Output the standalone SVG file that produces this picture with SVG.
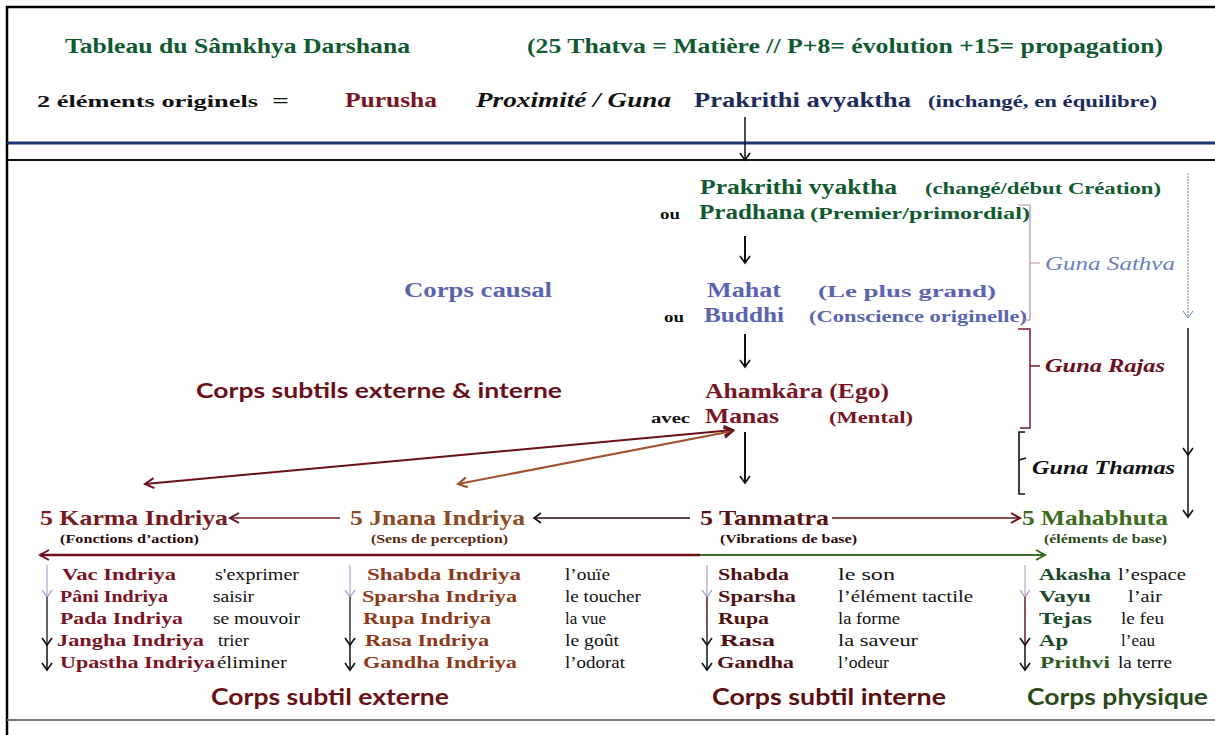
<svg xmlns="http://www.w3.org/2000/svg" width="1215" height="735" viewBox="0 0 1215 735" font-family="'Liberation Serif','Times New Roman',serif">
<style>
text{font-family:"Liberation Serif","Times New Roman",serif;font-weight:bold}
.g{fill:#0f5a30}.r{fill:#7a1424}.n{fill:#1c2b5c}.b{fill:#5a64b0}.k{fill:#111}
.sans{font-family:Lato,"Noto Sans",sans-serif}
.it{font-style:italic}
.reg{font-weight:normal;fill:#111;font-size:17px}
.ln{fill:none}
</style>
<defs>
<marker id="ahk" markerWidth="12" markerHeight="12" refX="9" refY="6" orient="auto" markerUnits="userSpaceOnUse"><path d="M2,1 L9,6 L2,11" fill="none" stroke="#111" stroke-width="1.6"/></marker>
<marker id="ahr" markerWidth="14" markerHeight="12" refX="11" refY="6" orient="auto" markerUnits="userSpaceOnUse"><path d="M2,1 L11,6 L2,11" fill="none" stroke="#6a1018" stroke-width="2"/></marker>
<marker id="ahrs" markerWidth="14" markerHeight="12" refX="11" refY="6" orient="auto-start-reverse" markerUnits="userSpaceOnUse"><path d="M2,1 L11,6 L2,11" fill="none" stroke="#6a1018" stroke-width="2"/></marker>
<marker id="ahbr" markerWidth="14" markerHeight="12" refX="11" refY="6" orient="auto-start-reverse" markerUnits="userSpaceOnUse"><path d="M2,1 L11,6 L2,11" fill="none" stroke="#a0522d" stroke-width="2"/></marker>
<marker id="ahg" markerWidth="14" markerHeight="12" refX="11" refY="6" orient="auto" markerUnits="userSpaceOnUse"><path d="M2,1 L11,6 L2,11" fill="none" stroke="#3d6b22" stroke-width="2"/></marker>
<marker id="ahb" markerWidth="12" markerHeight="12" refX="9" refY="6" orient="auto" markerUnits="userSpaceOnUse"><path d="M2,1 L9,6 L2,11" fill="none" stroke="#7080b0" stroke-width="1"/></marker>
<marker id="ahl" markerWidth="12" markerHeight="12" refX="9" refY="6" orient="auto" markerUnits="userSpaceOnUse"><path d="M2,1 L9,6 L2,11" fill="none" stroke="#9a90c8" stroke-width="1.2"/></marker>
</defs>
<rect width="1215" height="735" fill="#fff"/>
<g id="frame" fill="none">
<path d="M7,735 L7,7 L1215,7" stroke="#000" stroke-width="2.5"/>
<line x1="7" y1="143" x2="1215" y2="143" stroke="#1a3572" stroke-width="3"/>
<line x1="7" y1="160" x2="1215" y2="160" stroke="#111" stroke-width="2"/>
<line x1="7" y1="720" x2="1215" y2="720" stroke="#777" stroke-width="2"/>
</g>
<g id="header">
<text class="g" x="65" y="53" font-size="21" textLength="345" lengthAdjust="spacingAndGlyphs">Tableau du Sâmkhya Darshana</text>
<text class="g" x="527" y="53" font-size="21" textLength="636" lengthAdjust="spacingAndGlyphs">(25 Thatva = Matière // P+8= évolution +15= propagation)</text>
<text class="k" x="37" y="107" font-size="17" textLength="221" lengthAdjust="spacingAndGlyphs">2 éléments originels</text>
<text class="k" x="272" y="107" font-size="19" textLength="17" lengthAdjust="spacingAndGlyphs">=</text>
</g>
<g id="purusha"><text class="r" x="345" y="107" font-size="21" textLength="92" lengthAdjust="spacingAndGlyphs">Purusha</text></g>
<g id="proximite"><text class="k it" x="476" y="107" font-size="20" textLength="195" lengthAdjust="spacingAndGlyphs">Proximité / Guna</text></g>
<g id="avyaktha">
<text class="n" x="694" y="107" font-size="21" textLength="217" lengthAdjust="spacingAndGlyphs">Prakrithi  avyaktha</text>
<text class="n" x="928" y="107" font-size="17" textLength="229" lengthAdjust="spacingAndGlyphs">(inchangé, en équilibre)</text>
</g>
<g id="vyaktha">
<text class="g" x="700" y="194" font-size="20" textLength="197" lengthAdjust="spacingAndGlyphs">Prakrithi vyaktha</text>
<text class="g" x="925" y="194" font-size="17" textLength="236" lengthAdjust="spacingAndGlyphs">(changé/début Création)</text>
<text class="k" x="660" y="219" font-size="15" textLength="20" lengthAdjust="spacingAndGlyphs">ou</text>
<text class="g" x="699" y="219" font-size="20" textLength="106" lengthAdjust="spacingAndGlyphs">Pradhana</text>
<text class="g" x="810" y="219" font-size="17" textLength="220" lengthAdjust="spacingAndGlyphs">(Premier/primordial)</text>
</g>
<g id="causal"><text class="b" x="404" y="297" font-size="20" textLength="148" lengthAdjust="spacingAndGlyphs">Corps causal</text></g>
<g id="mahat">
<text class="b" x="707" y="297" font-size="20" textLength="74" lengthAdjust="spacingAndGlyphs">Mahat</text>
<text class="b" x="818" y="297" font-size="17" textLength="178" lengthAdjust="spacingAndGlyphs">(Le plus grand)</text>
<text class="k" x="664" y="322" font-size="15" textLength="20" lengthAdjust="spacingAndGlyphs">ou</text>
<text class="b" x="704" y="322" font-size="20" textLength="80" lengthAdjust="spacingAndGlyphs">Buddhi</text>
<text class="b" x="809" y="322" font-size="17" textLength="218" lengthAdjust="spacingAndGlyphs">(Conscience originelle)</text>
</g>
<g id="subtils"><text class="sans" x="196" y="398" font-size="21" fill="#6a1018" textLength="366" lengthAdjust="spacingAndGlyphs">Corps subtils externe &amp; interne</text></g>
<g id="ahamkara">
<text class="r" x="705" y="398" font-size="20" textLength="184" lengthAdjust="spacingAndGlyphs">Ahamkâra (Ego)</text>
<text class="k" x="651" y="423" font-size="14" textLength="39" lengthAdjust="spacingAndGlyphs">avec</text>
<text class="r" x="705" y="423" font-size="21" textLength="74" lengthAdjust="spacingAndGlyphs">Manas</text>
<text class="r" x="829" y="423" font-size="17" textLength="84" lengthAdjust="spacingAndGlyphs">(Mental)</text>
</g>
<g id="guna-sathva">
<path class="ln" d="M1018,205 L1030,205 L1030,320 L1022,320 M1030,263 L1040,263" stroke="#b090a8" stroke-width="1.2"/>
<text class="it" x="1045" y="270" font-size="18" fill="#6a80c0" textLength="130" lengthAdjust="spacingAndGlyphs" style="font-weight:normal">Guna Sathva</text>
</g>
<g id="guna-rajas">
<path class="ln" d="M1018,329 L1030,329 L1030,428 L1020,428 M1030,366 L1040,366" stroke="#7a1a2a" stroke-width="1.5"/>
<text class="it" x="1045" y="372" font-size="18" fill="#6a1020" textLength="120" lengthAdjust="spacingAndGlyphs">Guna Rajas</text>
</g>
<g id="guna-thamas">
<path class="ln" d="M1025,432 L1019,432 L1019,494 L1025,494 M1019,460 L1026,458" stroke="#111" stroke-width="1.6"/>
<text class="it k" x="1032" y="474" font-size="18" textLength="143" lengthAdjust="spacingAndGlyphs">Guna Thamas</text>
</g>
<g id="karma">
<text x="40" y="525" font-size="21" fill="#7a1a22" textLength="188" lengthAdjust="spacingAndGlyphs">5 Karma Indriya</text>
<text x="60" y="543" font-size="12" fill="#2a0a0a" textLength="139" lengthAdjust="spacingAndGlyphs">(Fonctions d’action)</text>
</g>
<g id="jnana">
<text x="350" y="525" font-size="21" fill="#8b4a22" textLength="175" lengthAdjust="spacingAndGlyphs">5 Jnana Indriya</text>
<text x="371" y="543" font-size="12" fill="#5a2a10" textLength="137" lengthAdjust="spacingAndGlyphs">(Sens de perception)</text>
</g>
<g id="tanmatra">
<text x="700" y="525" font-size="21" fill="#5a1212" textLength="129" lengthAdjust="spacingAndGlyphs">5 Tanmatra</text>
<text x="720" y="543" font-size="12" fill="#2a0a0a" textLength="137" lengthAdjust="spacingAndGlyphs">(Vibrations de base)</text>
</g>
<g id="mahabhuta">
<text x="1022" y="525" font-size="21" fill="#3d6b22" textLength="146" lengthAdjust="spacingAndGlyphs">5 Mahabhuta</text>
<text x="1044" y="543" font-size="12" fill="#2a4a1a" textLength="123" lengthAdjust="spacingAndGlyphs">(éléments de base)</text>
</g>
<g id="list-karma" font-size="17">
<text x="62" y="580" fill="#7a1424" textLength="114" lengthAdjust="spacingAndGlyphs">Vac Indriya</text>
<text x="60" y="602" fill="#7a1424" textLength="108" lengthAdjust="spacingAndGlyphs">Pâni Indriya</text>
<text x="60" y="624" fill="#7a1424" textLength="123" lengthAdjust="spacingAndGlyphs">Pada Indriya</text>
<text x="57" y="646" fill="#7a1424" textLength="147" lengthAdjust="spacingAndGlyphs">Jangha Indriya</text>
<text x="60" y="668" fill="#7a1424" textLength="155" lengthAdjust="spacingAndGlyphs">Upastha Indriya</text>
<text class="reg" x="215" y="580" textLength="84" lengthAdjust="spacingAndGlyphs">s'exprimer</text>
<text class="reg" x="213" y="602" textLength="41" lengthAdjust="spacingAndGlyphs">saisir</text>
<text class="reg" x="213" y="624" textLength="87" lengthAdjust="spacingAndGlyphs">se mouvoir</text>
<text class="reg" x="218" y="646" textLength="31" lengthAdjust="spacingAndGlyphs">trier</text>
<text class="reg" x="217" y="668" textLength="70" lengthAdjust="spacingAndGlyphs">éliminer</text>
</g>
<g id="list-jnana" font-size="17">
<text x="367" y="580" fill="#8b3a1a" textLength="154" lengthAdjust="spacingAndGlyphs">Shabda  Indriya</text>
<text x="362" y="602" fill="#8b3a1a" textLength="155" lengthAdjust="spacingAndGlyphs">Sparsha Indriya</text>
<text x="363" y="624" fill="#8b3a1a" textLength="128" lengthAdjust="spacingAndGlyphs">Rupa Indriya</text>
<text x="365" y="646" fill="#8b3a1a" textLength="124" lengthAdjust="spacingAndGlyphs">Rasa Indriya</text>
<text x="363" y="668" fill="#8b3a1a" textLength="154" lengthAdjust="spacingAndGlyphs">Gandha Indriya</text>
<text class="reg" x="565" y="580" textLength="45" lengthAdjust="spacingAndGlyphs">l’ouïe</text>
<text class="reg" x="565" y="602" textLength="76" lengthAdjust="spacingAndGlyphs">le toucher</text>
<text class="reg" x="565" y="624" textLength="41" lengthAdjust="spacingAndGlyphs">la vue</text>
<text class="reg" x="565" y="646" textLength="54" lengthAdjust="spacingAndGlyphs">le goût</text>
<text class="reg" x="565" y="668" textLength="60" lengthAdjust="spacingAndGlyphs">l’odorat</text>
</g>
<g id="list-tanmatra" font-size="17">
<text x="718" y="580" fill="#4e1010" textLength="71" lengthAdjust="spacingAndGlyphs">Shabda</text>
<text x="718" y="602" fill="#4e1010" textLength="78" lengthAdjust="spacingAndGlyphs">Sparsha</text>
<text x="718" y="624" fill="#4e1010" textLength="51" lengthAdjust="spacingAndGlyphs">Rupa</text>
<text x="720" y="646" fill="#4e1010" textLength="55" lengthAdjust="spacingAndGlyphs">Rasa</text>
<text x="717" y="668" fill="#4e1010" textLength="77" lengthAdjust="spacingAndGlyphs">Gandha</text>
<text class="reg" x="838" y="580" textLength="57" lengthAdjust="spacingAndGlyphs">le son</text>
<text class="reg" x="838" y="602" textLength="135" lengthAdjust="spacingAndGlyphs">l’élément tactile</text>
<text class="reg" x="838" y="624" textLength="62" lengthAdjust="spacingAndGlyphs">la forme</text>
<text class="reg" x="838" y="646" textLength="80" lengthAdjust="spacingAndGlyphs">la saveur</text>
<text class="reg" x="838" y="668" textLength="51" lengthAdjust="spacingAndGlyphs">l’odeur</text>
</g>
<g id="list-mahabhuta" font-size="17">
<text x="1039" y="580" fill="#1a4a2a" textLength="72" lengthAdjust="spacingAndGlyphs">Akasha</text>
<text x="1039" y="602" fill="#1a4a2a" textLength="52" lengthAdjust="spacingAndGlyphs">Vayu</text>
<text x="1039" y="624" fill="#1a4a2a" textLength="53" lengthAdjust="spacingAndGlyphs">Tejas</text>
<text x="1039" y="646" fill="#1a4a2a" textLength="29" lengthAdjust="spacingAndGlyphs">Ap</text>
<text x="1040" y="668" fill="#2c5a22" textLength="70" lengthAdjust="spacingAndGlyphs">Prithvi</text>
<text class="reg" x="1118" y="580" textLength="68" lengthAdjust="spacingAndGlyphs">l’espace</text>
<text class="reg" x="1128" y="602" textLength="34" lengthAdjust="spacingAndGlyphs">l’air</text>
<text class="reg" x="1121" y="624" textLength="43" lengthAdjust="spacingAndGlyphs">le feu</text>
<text class="reg" x="1121" y="646" textLength="34" lengthAdjust="spacingAndGlyphs">l’eau</text>
<text class="reg" x="1118" y="668" textLength="54" lengthAdjust="spacingAndGlyphs">la terre</text>
</g>
<g id="footer-externe"><text class="sans" x="211" y="705" font-size="22" fill="#6a1018" textLength="238" lengthAdjust="spacingAndGlyphs">Corps subtil externe</text></g>
<g id="footer-interne"><text class="sans" x="712" y="705" font-size="22" fill="#5a1010" textLength="234" lengthAdjust="spacingAndGlyphs">Corps subtil interne</text></g>
<g id="footer-physique"><text class="sans" x="1027" y="705" font-size="22" fill="#2a4a1a" textLength="181" lengthAdjust="spacingAndGlyphs">Corps physique</text></g>
<g id="connectors" fill="none">
<line x1="745" y1="117" x2="745" y2="160" stroke="#111" stroke-width="1.5" marker-end="url(#ahk)"/>
<line x1="745" y1="236" x2="745" y2="263" stroke="#111" stroke-width="2" marker-end="url(#ahk)"/>
<line x1="745" y1="334" x2="745" y2="367" stroke="#111" stroke-width="2" marker-end="url(#ahk)"/>
<line x1="745" y1="432" x2="745" y2="483" stroke="#111" stroke-width="2" marker-end="url(#ahk)"/>
<line x1="145" y1="484" x2="733" y2="430" stroke="#6a1018" stroke-width="2" marker-start="url(#ahrs)" marker-end="url(#ahrs)"/>
<line x1="458" y1="484" x2="733" y2="431" stroke="#a0522d" stroke-width="2" marker-start="url(#ahbr)" marker-end="url(#ahrs)"/>
<line x1="340" y1="518" x2="230" y2="518" stroke="#7a1a22" stroke-width="1.5" marker-end="url(#ahr)"/>
<line x1="690" y1="518" x2="534" y2="518" stroke="#2a0a0a" stroke-width="1.5" marker-end="url(#ahk)"/>
<line x1="832" y1="518" x2="1020" y2="518" stroke="#5a1212" stroke-width="1.5" marker-end="url(#ahr)"/>
<line x1="700" y1="555" x2="40" y2="555" stroke="#6a1018" stroke-width="2.5" marker-end="url(#ahr)"/>
<line x1="700" y1="555" x2="1045" y2="555" stroke="#3d6b22" stroke-width="2" marker-end="url(#ahg)"/>
<line x1="1188" y1="173" x2="1188" y2="318" stroke="#7080b0" stroke-width="1" stroke-dasharray="2,1" marker-end="url(#ahb)"/>
<line x1="1188" y1="328" x2="1188" y2="455" stroke="#111" stroke-width="1.5" marker-end="url(#ahk)"/>
<line x1="1188" y1="455" x2="1188" y2="517" stroke="#111" stroke-width="1.5" marker-end="url(#ahk)"/>
<line x1="47" y1="565" x2="47" y2="597" stroke="#9a90c8" stroke-width="1" marker-end="url(#ahl)"/>
<line x1="47" y1="597" x2="47" y2="645" stroke="#333" stroke-width="1.5" marker-end="url(#ahk)"/>
<line x1="47" y1="645" x2="47" y2="670" stroke="#111" stroke-width="1.5" marker-end="url(#ahk)"/>
<line x1="350" y1="565" x2="350" y2="597" stroke="#9a90c8" stroke-width="1" marker-end="url(#ahl)"/>
<line x1="350" y1="597" x2="350" y2="645" stroke="#333" stroke-width="1.5" marker-end="url(#ahk)"/>
<line x1="350" y1="645" x2="350" y2="670" stroke="#111" stroke-width="1.5" marker-end="url(#ahk)"/>
<line x1="707" y1="565" x2="707" y2="597" stroke="#9a90c8" stroke-width="1" marker-end="url(#ahl)"/>
<line x1="707" y1="597" x2="707" y2="645" stroke="#5a1a22" stroke-width="1.5" marker-end="url(#ahk)"/>
<line x1="707" y1="645" x2="707" y2="670" stroke="#111" stroke-width="1.5" marker-end="url(#ahk)"/>
<line x1="1025" y1="565" x2="1025" y2="597" stroke="#b090c0" stroke-width="1" marker-end="url(#ahl)"/>
<line x1="1025" y1="597" x2="1025" y2="645" stroke="#6a1a2a" stroke-width="1.5" marker-end="url(#ahk)"/>
<line x1="1025" y1="645" x2="1025" y2="670" stroke="#111" stroke-width="1.5" marker-end="url(#ahk)"/>
</g>
</svg>
